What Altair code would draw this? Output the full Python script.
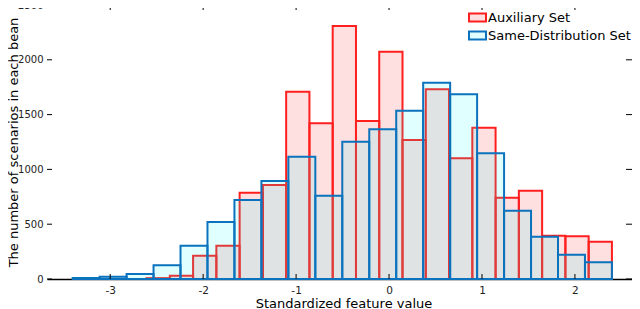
import altair as alt
import numpy as np
import pandas as pd

# ---- data ----
series_names = ["Auxiliary Set", "Same-Distribution Set"]
aux_counts = [8, 30, 212, 304, 788, 858, 1709, 1420, 2308, 1442,
              2074, 1268, 1731, 1101, 1381, 742, 806, 395, 390, 340]
same_counts = [8, 20, 45, 125, 304, 520, 721, 894, 1116, 760,
               1253, 1366, 1536, 1791, 1685, 1147, 623, 386, 222, 152]
aux_range = [-2.609, 2.398]    # histogram bin range (20 bins)
same_range = [-3.404, 2.398]
x_ticks = [-3, -2, -1, 0, 1, 2]
y_ticks = [0, 500, 1000, 1500, 2000, 2500]

rows = []
for name, counts, rng in [(series_names[0], aux_counts, aux_range),
                          (series_names[1], same_counts, same_range)]:
    edges = np.linspace(rng[0], rng[1], len(counts) + 1)
    for i, c in enumerate(counts):
        rows.append({"series": name, "x0": edges[i], "x1": edges[i + 1], "count": c})
df = pd.DataFrame(rows)

W, H = 593, 274
xdom = [-3.68, 2.70]
ydom = [0, 2500]
FONT = "DejaVu Sans"

xscale = alt.Scale(domain=xdom, nice=False, zero=False)
yscale = alt.Scale(domain=ydom, nice=False)

fill_scale = alt.Scale(domain=series_names,
                       range=["rgba(255,0,0,0.12)", "rgba(0,255,255,0.12)"])
stroke_scale = alt.Scale(domain=series_names, range=["#ff1f1f", "#0b72bd"])

legend = alt.Legend(
    title=None, orient="none", legendX=421, legendY=3,
    symbolType="M-1,-0.47H1V0.47H-1Z", symbolSize=289, symbolStrokeWidth=2,
    labelFont=FONT, labelFontSize=13, labelColor="black", labelOffset=1,
    rowPadding=0, padding=0, labelLimit=300,
)

def bars(name):
    return alt.Chart(df[df.series == name]).mark_rect(strokeWidth=2).encode(
        x=alt.X("x0:Q", scale=xscale,
                axis=alt.Axis(values=x_ticks, ticks=False, grid=False,
                              domainColor="black", domainWidth=1.5,
                              labelExpr="'' + datum.value",
                              labelFont=FONT, labelFontSize=10.5, labelColor="#222",
                              labelPadding=6, labelFlush=False,
                              title="Standardized feature value",
                              titleFont=FONT, titleFontSize=13,
                              titleFontWeight="normal", titleColor="black",
                              titleY=24.5, titleBaseline="middle")),
        x2="x1:Q",
        y=alt.Y("count:Q", scale=yscale,
                axis=alt.Axis(values=y_ticks, ticks=False, grid=False, domain=False,
                              labelExpr="'' + datum.value",
                              labelFont=FONT, labelFontSize=10, labelColor="#222",
                              labelPadding=4,
                              title="The number of scenarios in each bean",
                              titleFont=FONT, titleFontSize=13,
                              titleFontWeight="normal", titleColor="black",
                              titleX=-39.5, titleY=H / 2, titleAngle=270,
                              titleAlign="center", titleBaseline="top")),
        y2=alt.datum(0),
        fill=alt.Fill("series:N", scale=fill_scale, legend=legend),
        stroke=alt.Stroke("series:N", scale=stroke_scale, legend=legend),
    )

tick_df_x = pd.DataFrame({"v": x_ticks})
tick_df_y = pd.DataFrame({"v": y_ticks})

bottom_ticks = alt.Chart(tick_df_x).mark_rule(color="black", strokeWidth=1).encode(
    x=alt.X("v:Q", scale=xscale), y=alt.value(H - 5), y2=alt.value(H))
top_ticks = alt.Chart(tick_df_x).mark_rule(color="black", strokeWidth=1).encode(
    x=alt.X("v:Q", scale=xscale), y=alt.value(0), y2=alt.value(5))
left_ticks = alt.Chart(tick_df_y).mark_rule(color="black", strokeWidth=1).encode(
    y=alt.Y("v:Q", scale=yscale), x=alt.value(0), x2=alt.value(5))
right_ticks = alt.Chart(tick_df_y).mark_rule(color="black", strokeWidth=1).encode(
    y=alt.Y("v:Q", scale=yscale), x=alt.value(W - 14), x2=alt.value(W - 8))

chart = alt.layer(
    bars(series_names[0]), bars(series_names[1]),
    bottom_ticks, top_ticks, left_ticks, right_ticks,
).properties(
    width=W, height=H,
    autosize=alt.AutoSizeParams(type="none"),
    padding={"left": 39, "top": -3, "right": -8, "bottom": 30},
).configure_view(stroke=None)

chart.save("out.html", embed_options={"renderer": "svg", "actions": False})
